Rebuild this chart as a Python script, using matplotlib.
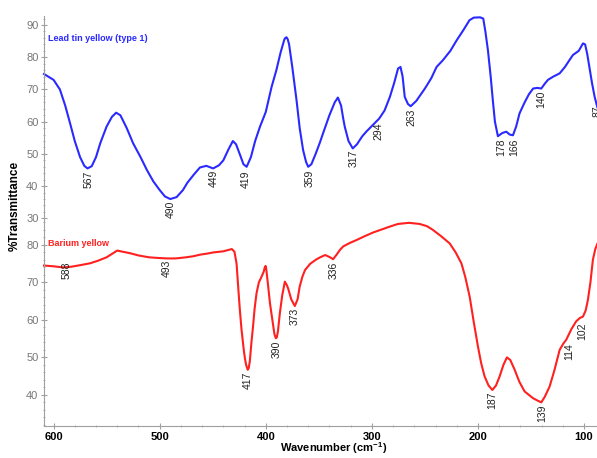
import numpy as np
import matplotlib.pyplot as plt
from matplotlib.ticker import MultipleLocator, AutoMinorLocator

plt.rcParams['font.family'] = ['Liberation Sans', 'DejaVu Sans']

# Lead tin yellow (type 1) - espectre superior
wn_lt = [609, 600, 594, 589, 584.5, 580, 575, 571, 568, 564, 560, 556, 550, 545, 541, 537, 531, 525,
         518, 512, 506, 500, 495, 490, 484, 478, 474, 468, 462, 456, 449.6, 444, 440, 435, 431, 428,
         424, 421, 418, 414, 410, 405.5, 400, 394.5, 390, 386, 382.5, 381.5, 380.4, 379.3, 378, 375,
         371, 368, 364.8, 362, 360, 357, 353, 349, 346, 340, 335, 332, 329, 327, 325.5, 322, 318,
         314, 309, 305, 299, 293, 288, 283, 279, 275.3, 273, 271, 269, 266, 263.4, 258, 250, 244,
         239, 233, 226, 220, 214, 208, 204, 198, 195, 193, 190.6, 188, 186, 184, 181.2, 177, 173.3,
         170, 167, 164, 160.8, 156, 152, 148, 144, 140.3, 137, 134, 129, 123, 118, 114, 110.5, 105,
         101, 99, 97, 95, 92.5, 90, 87.5]
t_lt = [74.8, 73.0, 70.0, 65.0, 59.6, 54.0, 49.0, 46.3, 45.5, 46.2, 49.0, 53.3, 58.5, 61.5, 62.8, 62.0,
        58.0, 53.3, 49.0, 45.0, 41.5, 38.8, 36.8, 36.0, 36.6, 38.8, 41.0, 43.5, 45.8, 46.3, 45.5,
        46.5, 48.0, 51.5, 54.0, 53.0, 49.5, 46.8, 46.0, 49.0, 54.0, 58.4, 63.0, 70.8, 76.0, 81.5,
        85.5, 86.0, 86.2, 85.6, 84.0, 77.0, 66.7, 58.0, 51.2, 47.5, 46.0, 46.8, 50.0, 53.5, 56.4,
        62.0, 66.0, 67.5, 65.0, 61.0, 58.4, 54.0, 51.7, 53.0, 55.5, 57.0, 59.0, 61.0, 63.5, 67.7,
        72.0, 76.5, 77.0, 74.0, 67.7, 65.5, 64.8, 66.5, 70.3, 73.5, 77.0, 79.1, 82.0, 85.3, 88.3,
        91.5, 92.3, 92.4, 92.0, 88.0, 82.2, 74.0, 66.7, 60.0, 55.5, 56.5, 56.9, 56.0, 55.8, 58.5,
        62.6, 66.0, 68.5, 70.3, 70.5, 70.3, 71.8, 73.0, 74.0, 75.0, 77.0, 79.0, 80.7, 82.0, 84.3,
        84.0, 81.0, 77.0, 72.0, 67.7, 64.5]
pk_lt = [567, 490, 449, 419, 359, 317, 294, 263, 178, 166, 140, 87]
pk_lt_y = [44.8, 35.6, 45.0, 45.0, 45.0, 51.2, 59.6, 64.2, 54.9, 54.9, 69.8, 65.2]

# Barium yellow - espectre inferior
wn_ba = [609, 600, 591, 583, 575, 565.6, 558, 550, 545, 540, 535, 528, 520, 510, 500, 493, 485, 475,
         468, 462, 455, 449.5, 440, 432, 429.5, 427.5, 426, 424.5, 422.8, 420.5, 419.5, 418.5, 417,
         416, 415, 413.5, 412, 410.5, 408.7, 406.5, 404, 402, 401, 400.2, 399.5, 398.5, 396, 393,
         391.8, 390.5, 389.5, 388.5, 386.7, 384.5, 382, 380.5, 378.9, 376, 372.6, 370, 368, 365.5,
         363, 358, 352, 348, 344, 340, 336.5, 333, 330, 327, 321, 314.5, 307, 299, 290, 282, 275.3,
         265, 255, 248, 242.4, 235, 226.6, 221, 215.6, 212, 207.8, 204, 200, 197, 193.7, 190, 186.4,
         183, 179.6, 176, 172.7, 169.5, 165.4, 161, 156, 152, 148, 144, 140.3, 137, 132.5, 128, 123,
         119.5, 116.8, 112, 107.5, 104, 101, 98.5, 96.4, 94, 91.7, 89.5, 87.5]
t_ba = [74.5, 74.3, 74.0, 74.2, 74.6, 75.1, 75.8, 76.7, 77.6, 78.5, 78.2, 77.8, 77.2, 76.7, 76.5, 76.4,
        76.4, 76.7, 77.0, 77.4, 77.7, 78.0, 78.3, 78.9, 78.2, 75.0, 68.9, 63.0, 57.3, 51.5, 49.5,
        48.0, 46.7, 47.2, 49.0, 54.0, 58.2, 63.0, 67.1, 70.0, 71.5, 72.8, 73.9, 74.4, 73.5, 71.0,
        64.4, 58.5, 56.2, 55.1, 55.4, 57.0, 61.8, 66.5, 70.2, 69.5, 68.4, 65.5, 63.7, 65.5, 68.9,
        71.5, 73.3, 75.0, 76.2, 76.8, 77.3, 76.8, 76.2, 77.5, 78.7, 79.6, 80.5, 81.3, 82.3, 83.3,
        84.2, 85.0, 85.6, 85.9, 85.6, 85.0, 84.0, 82.4, 80.4, 78.0, 75.1, 71.5, 66.2, 59.5, 52.9,
        48.5, 44.9, 42.5, 41.3, 42.5, 44.9, 48.0, 50.0, 49.3, 46.7, 43.5, 40.9, 40.0, 39.1, 38.5,
        38.0, 39.5, 42.2, 46.5, 52.0, 53.7, 54.7, 57.5, 59.6, 60.5, 60.9, 62.5, 65.3, 70.0, 76.0,
        78.8, 80.3]
pk_ba = [588, 493, 417, 390, 373, 336, 187, 139, 114, 102]
pk_ba_y = [75.5, 76.0, 46.1, 54.4, 63.2, 75.5, 40.8, 37.3, 53.9, 59.2]

fig = plt.figure(figsize=(5.97, 4.58), dpi=100)
L, W = 0.0737, 0.9263
ax1 = fig.add_axes([L, 0.5183, W, 0.4467])   # superior
ax2 = fig.add_axes([L, 0.0699, W, 0.4485])   # inferior

grey = '#a0a0a0'

def eixos(ax, lo, hi, ticks):
  ax.set_xlim(609, 87.8)
  ax.set_ylim(lo, hi)
  ax.set_yticks(ticks)
  ax.yaxis.set_minor_locator(AutoMinorLocator(5))
  for s in ['top', 'right', 'bottom']:
    ax.spines[s].set_visible(False)
  ax.spines['left'].set_color(grey)
  ax.tick_params(axis='y', which='major', direction='inout', length=4, color=grey,
                 labelcolor='#777777', labelsize=8, pad=2)
  ax.tick_params(axis='y', which='minor', direction='inout', length=2, color=grey)
  ax.patch.set_alpha(0)

eixos(ax1, 29.3, 92.8, [30, 40, 50, 60, 70, 80, 90])
eixos(ax2, 31.7, 86.5, [40, 50, 60, 70, 80])

ax1.tick_params(axis='x', which='both', bottom=False, labelbottom=False)
ax2.spines['bottom'].set_visible(True)
ax2.spines['bottom'].set_color(grey)
ax2.xaxis.set_major_locator(MultipleLocator(100))
ax2.xaxis.set_minor_locator(MultipleLocator(20))
ax2.tick_params(axis='x', which='major', direction='inout', length=4, color=grey,
                labelsize=8, pad=2)
ax2.tick_params(axis='x', which='minor', direction='inout', length=2, color=grey)
for lab in ax2.get_xticklabels():
  lab.set_fontweight('bold')

ax1.plot(wn_lt, t_lt, color='#2a2aff', lw=1.5, clip_on=False, solid_joinstyle='round')
ax2.plot(wn_ba, t_ba, color='#ff2020', lw=1.5, clip_on=False, solid_joinstyle='round')

# etiquetes dels pics
for x, y in zip(pk_lt, pk_lt_y):
  ax1.text(x, y, str(x), rotation=90, ha='center', va='top', fontsize=7.5, color='#222222', clip_on=False)
for x, y in zip(pk_ba, pk_ba_y):
  ax2.text(x, y, str(x), rotation=90, ha='center', va='top', fontsize=7.5, color='#222222', clip_on=False)

ax1.text(605, 85.7, 'Lead tin yellow (type 1)', color='#2a2aff', fontsize=6.5, fontweight='bold', va='center')
ax2.text(605, 80.5, 'Barium yellow', color='#ff2020', fontsize=6.5, fontweight='bold', va='center')

fig.text(0.025, 0.55, '%Transmittance', rotation=90, ha='center', va='center', fontsize=8.5, fontweight='bold')
fig.text(0.558, 0.021, 'Wavenumber (cm$^{\\mathregular{-1}}$)', ha='center', va='center', fontsize=8, fontweight='bold')

plt.savefig('out.png', dpi=100)
